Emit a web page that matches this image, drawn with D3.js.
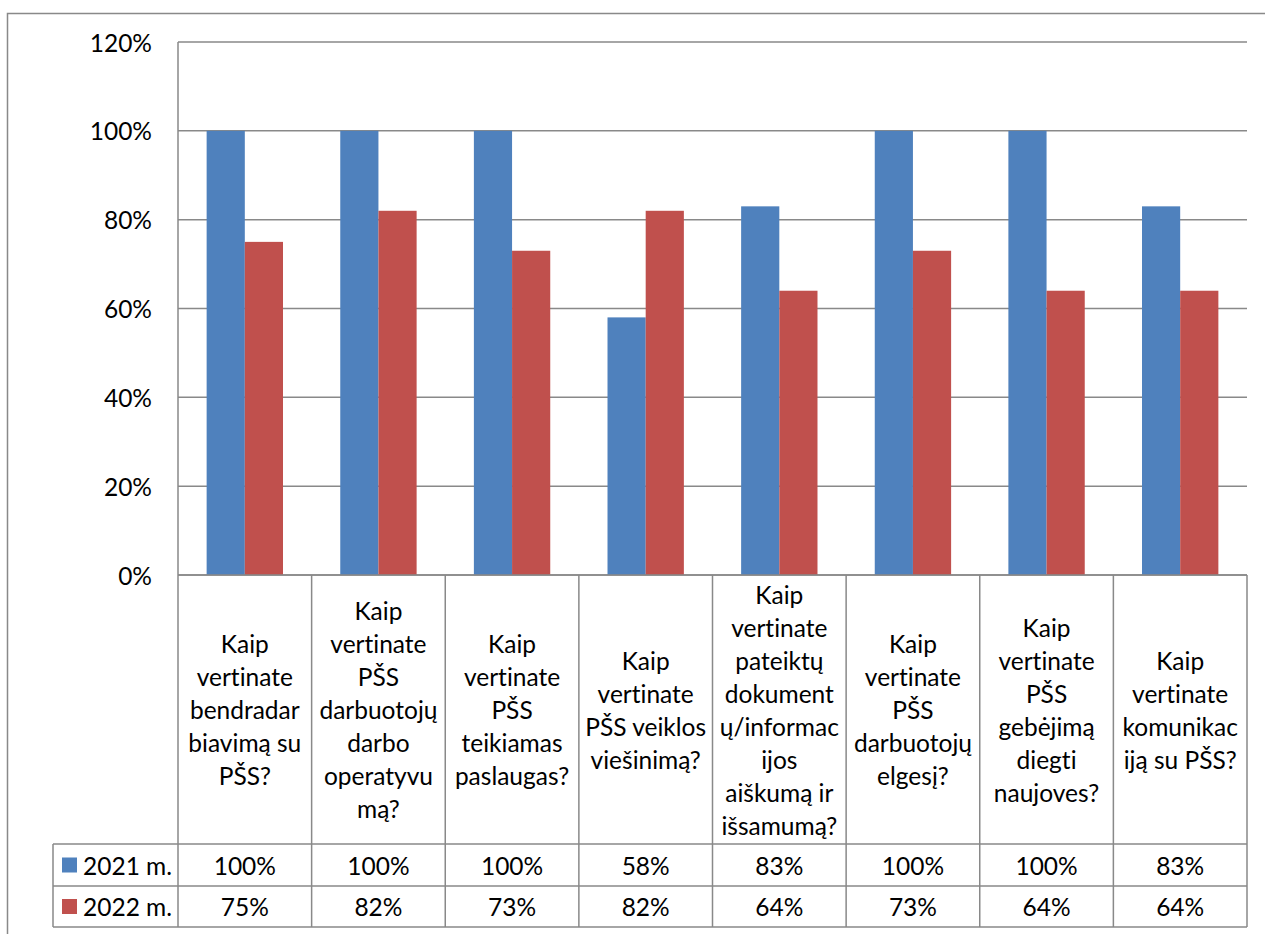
<!DOCTYPE html>
<html>
<head>
<meta charset="utf-8">
<script src="https://cdn.jsdelivr.net/npm/d3@7"></script>
<style>
  html, body { margin: 0; padding: 0; background: #fff; }
  svg { display: block; font-family: Lato, "Open Sans", sans-serif; font-variant-ligatures: none; font-feature-settings: "liga" 0; }
</style>
</head>
<body>
<svg id="chart" width="1265" height="934"></svg>
<script>
const categories = [
  ["Kaip", "vertinate", "bendradar", "biavimą su", "PŠS?"],
  ["Kaip", "vertinate", "PŠS", "darbuotojų", "darbo", "operatyvu", "mą?"],
  ["Kaip", "vertinate", "PŠS", "teikiamas", "paslaugas?"],
  ["Kaip", "vertinate", "PŠS veiklos", "viešinimą?"],
  ["Kaip", "vertinate", "pateiktų", "dokument", "ų/informac", "ijos", "aiškumą ir", "išsamumą?"],
  ["Kaip", "vertinate", "PŠS", "darbuotojų", "elgesį?"],
  ["Kaip", "vertinate", "PŠS", "gebėjimą", "diegti", "naujoves?"],
  ["Kaip", "vertinate", "komunikac", "iją su PŠS?"]
];
const seriesNames = ["2021 m.", "2022 m."];
const values2021 = [100, 100, 100, 58, 83, 100, 100, 83];
const values2022 = [75, 82, 73, 82, 64, 73, 64, 64];
const yTicks = [0, 20, 40, 60, 80, 100, 120];
const colors = ["#4F81BD", "#C0504D"];

const series = [values2021, values2022];
const svg = d3.select("#chart");
const fontSize = 24.5;
const lineColor = "#898989";

const plotLeft = 178, plotRight = 1247, plotTop = 42, plotBottom = 575;
const row1Top = 844, row2Top = 886, tableBottom = 927, legendLeft = 53;

// outer chart border
svg.append("rect").attr("x", 7.5).attr("y", 13.5).attr("width", 1300).attr("height", 1000)
  .attr("fill", "none").attr("stroke", lineColor).attr("stroke-width", 1.5);

const idx = d3.range(categories.length);
const x = d3.scaleBand().domain(idx).range([plotLeft, plotRight]).padding(0);
const xs = d3.scaleBand().domain([0, 1]).range([0, x.bandwidth()]).paddingInner(0).paddingOuter(0.75);
const y = d3.scaleLinear().domain([0, 120]).range([plotBottom, plotTop]);

// gridlines
svg.append("g").selectAll("line").data(yTicks).join("line")
  .attr("x1", plotLeft).attr("x2", plotRight)
  .attr("y1", d => y(d)).attr("y2", d => y(d))
  .attr("stroke", lineColor).attr("stroke-width", 1.5);

// y tick labels
svg.append("g").selectAll("text").data(yTicks).join("text")
  .attr("x", 152).attr("y", d => y(d))
  .attr("text-anchor", "end").attr("dominant-baseline", "central")
  .attr("font-size", fontSize).attr("fill", "#000")
  .text(d => d + "%");

// bars
series.forEach((vals, s) => {
  svg.append("g").selectAll("rect").data(vals).join("rect")
    .attr("x", (d, i) => x(i) + xs(s))
    .attr("width", xs.bandwidth())
    .attr("y", d => y(d))
    .attr("height", d => y(0) - y(d))
    .attr("fill", colors[s]);
});

// table lines
const g = svg.append("g").attr("stroke", lineColor).attr("stroke-width", 1.5);
idx.concat([categories.length]).forEach(i => {
  const xx = i < categories.length ? x(i) : plotRight;
  g.append("line").attr("x1", xx).attr("x2", xx).attr("y1", i === 0 ? plotTop : plotBottom).attr("y2", tableBottom);
});
g.append("line").attr("x1", plotLeft).attr("x2", plotRight).attr("y1", plotBottom).attr("y2", plotBottom);
[row1Top, row2Top, tableBottom].forEach(yy => {
  g.append("line").attr("x1", legendLeft).attr("x2", plotRight).attr("y1", yy).attr("y2", yy);
});
g.append("line").attr("x1", legendLeft).attr("x2", legendLeft).attr("y1", row1Top).attr("y2", tableBottom);

// header category labels
const lineH = 33;
const headerMid = (plotBottom + row1Top) / 2;
categories.forEach((lines, i) => {
  const t = svg.append("text")
    .attr("text-anchor", "middle").attr("font-size", fontSize).attr("fill", "#000");
  const startY = headerMid - (lines.length - 1) * lineH / 2;
  lines.forEach((ln, k) => {
    t.append("tspan").attr("x", x(i) + x.bandwidth() / 2).attr("y", startY + k * lineH)
      .attr("dominant-baseline", "central").text(ln);
  });
});

// data rows
const rowTops = [row1Top, row2Top];
const rowBottoms = [row2Top, tableBottom];
series.forEach((vals, s) => {
  const cy = (rowTops[s] + rowBottoms[s]) / 2;
  svg.append("g").selectAll("text").data(vals).join("text")
    .attr("x", (d, i) => x(i) + x.bandwidth() / 2).attr("y", cy)
    .attr("text-anchor", "middle").attr("dominant-baseline", "central")
    .attr("font-size", fontSize).attr("fill", "#000")
    .text(d => d + "%");
  svg.append("rect").attr("x", 62).attr("y", cy - 7.5).attr("width", 15).attr("height", 15).attr("fill", colors[s]);
  svg.append("text").attr("x", 83).attr("y", cy)
    .attr("dominant-baseline", "central").attr("font-size", fontSize).attr("fill", "#000")
    .text(seriesNames[s]);
});
</script>
</body>
</html>
